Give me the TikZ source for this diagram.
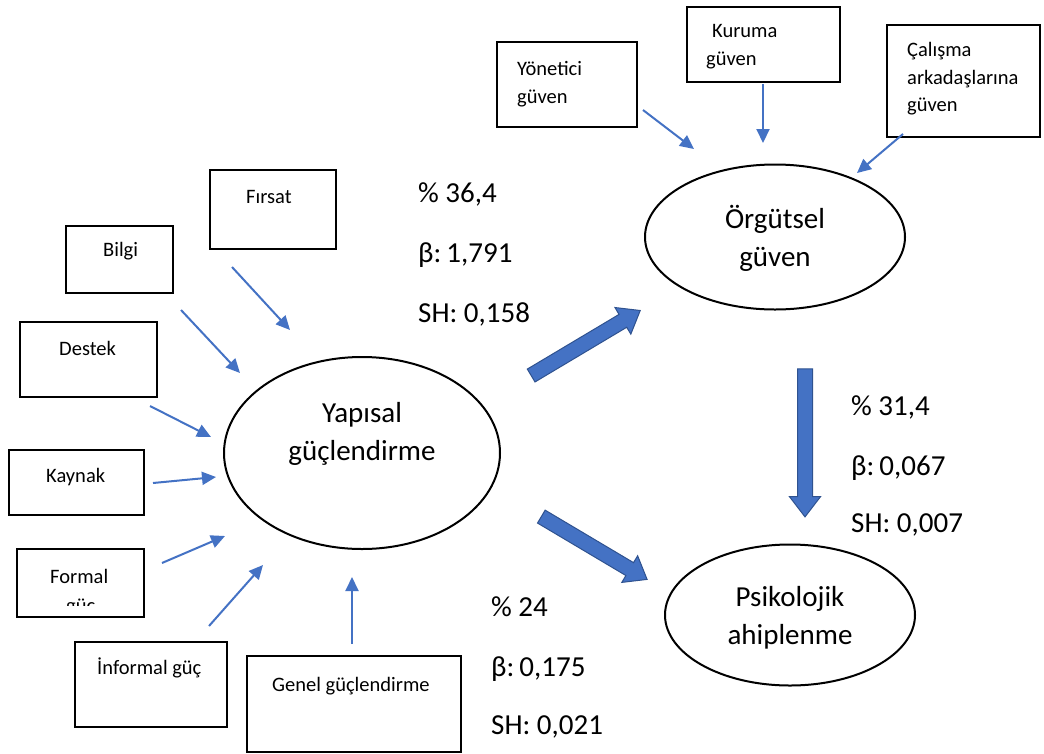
\documentclass[tikz,border=0pt]{standalone}
\usepackage{fontspec}
\setmainfont{Carlito}
\usetikzlibrary{arrows.meta,shapes.geometric,shapes.arrows,fit}
\definecolor{arrowblue}{HTML}{4472C4}
\definecolor{arrowdark}{HTML}{2F528F}
\begin{document}
\begin{tikzpicture}[x=1pt,y=-1pt,
 box/.style={draw=black,line width=2pt,inner sep=0pt},
 ell/.style={draw=black,line width=2pt,ellipse,inner sep=0pt},
 small/.style={font=\fontsize{20.5}{24}\selectfont,inner sep=0pt,anchor=base west},
 big/.style={font=\fontsize{29}{34}\selectfont,inner sep=0pt,anchor=base},
 lab/.style={font=\fontsize{29}{34}\selectfont,inner sep=0pt,anchor=base west},
 thinarrow/.style={draw=arrowblue,line width=2pt,-{Triangle[length=14pt,width=13pt]}},
 blockarrow/.style={single arrow,draw=arrowdark,fill=arrowblue,line width=1pt,inner sep=0pt,inner ysep=7pt,single arrow head extend=8pt,single arrow tip angle=75}
]
\useasboundingbox (0,0) rectangle (1044,753);

% boxes
\node[box,fit={(210,170)(336,249)}] (firsat) {};
\node[box,fit={(66,226)(173,293)}] (bilgi) {};
\node[box,fit={(20,322)(157,397)}] (destek) {};
\node[box,fit={(9,450)(144,515)}] (kaynak) {};
\node[box,fit={(17,549)(144,617)}] (formal) {};
\node[box,fit={(75,642)(227,727)}] (informal) {};
\node[box,fit={(247,656)(461,752)}] (genel) {};
\node[box,fit={(497,42)(637,127)}] (yonetici) {};
\node[box,fit={(687,7)(840,82)}] (kuruma) {};
\node[box,fit={(887,25)(1040,137)}] (calisma) {};

% box texts
\node[small] (tfirsat) at (246,203) {Fırsat};
\node[small] (tbilgi) at (103,256) {Bilgi};
\node[small] (tdestek) at (59,355) {Destek};
\node[small] (tkaynak) at (46,482) {Kaynak};
\node[small] (tformal) at (50,583) {Formal};
\begin{scope}
\clip (40,590) rectangle (130,605);
\node[small] (tguc) at (66,612) {güç};
\end{scope}
\node[small] (tinformal) at (97,674) {İnformal güç};
\node[small] (tgenel) at (272,691) {Genel güçlendirme};
\node[small] (tyon1) at (517,75) {Yönetici};
\node[small] (tyon2) at (517,103) {güven};
\node[small] (tkur1) at (712,37) {Kuruma};
\node[small] (tkur2) at (706,65) {güven};
\node[small] (tcal1) at (907,56) {Çalışma};
\node[small] (tcal2) at (907,84) {arkadaşlarına};
\node[small] (tcal3) at (907,111) {güven};

% ellipses
\node[ell,minimum width=276pt,minimum height=192pt] (yapisal) at (362,453) {};
\node[ell,minimum width=260pt,minimum height=145pt] (orgutsel) at (775,237) {};
\node[ell,minimum width=250pt,minimum height=141pt] (psiko) at (790,615) {};
\node[big] (ty1) at (362,422) {Yapısal};
\node[big] (ty2) at (362,460) {güçlendirme};
\node[big] (to1) at (775,228) {Örgütsel};
\node[big] (to2) at (775,266) {güven};
\node[big] (tp1) at (790,606) {Psikolojik};
\node[big] (tp2) at (790,644) {ahiplenme};

% labels
\node[lab] (l11) at (418,202) {\% 36,4};
\node[lab] (l12) at (418,262) {β:\kern-1.5pt\ 1,791};
\node[lab] (l13) at (418,322) {SH: 0,158};
\node[lab] (l21) at (851,415) {\% 31,4};
\node[lab] (l22) at (851,475) {β:\kern-1.5pt\ 0,067};
\node[lab] (l23) at (851,532) {SH: 0,007};
\node[lab] (l31) at (491,616) {\% 24};
\node[lab] (l32) at (491,676) {β:\kern-1.5pt\ 0,175};
\node[lab] (l33) at (491,734) {SH: 0,021};

% thin arrow endpoints
\coordinate (a1s) at (232,267); \coordinate (a1e) at (290,330);
\coordinate (a2s) at (181,310); \coordinate (a2e) at (240,373);
\coordinate (a3s) at (150,406); \coordinate (a3e) at (211,437);
\coordinate (a4s) at (153,483); \coordinate (a4e) at (216,477);
\coordinate (a5s) at (162,563); \coordinate (a5e) at (225,536);
\coordinate (a6s) at (209,626); \coordinate (a6e) at (263,565);
\coordinate (a7s) at (352,644); \coordinate (a7e) at (352,577);
\coordinate (b1s) at (643,110); \coordinate (b1e) at (694,149);
\coordinate (b2s) at (763,84); \coordinate (b2e) at (763,143);
\coordinate (b3s) at (903,134); \coordinate (b3e) at (857,173);
\foreach \s/\e in {a1s/a1e,a2s/a2e,a3s/a3e,a4s/a4e,a5s/a5e,a6s/a6e,a7s/a7e,b1s/b1e,b2s/b2e,b3s/b3e}
  \draw[thinarrow] (\s) -- (\e);

% block arrows
\node[blockarrow,minimum height=127pt,rotate=30.8] (ba1) at (581.5,345.5) {};
\node[blockarrow,minimum height=148pt,rotate=-90] (ba2) at (805,438) {};
\node[blockarrow,minimum height=123pt,rotate=-30.7] (ba3) at (590,545.5) {};
\end{tikzpicture}
\end{document}
